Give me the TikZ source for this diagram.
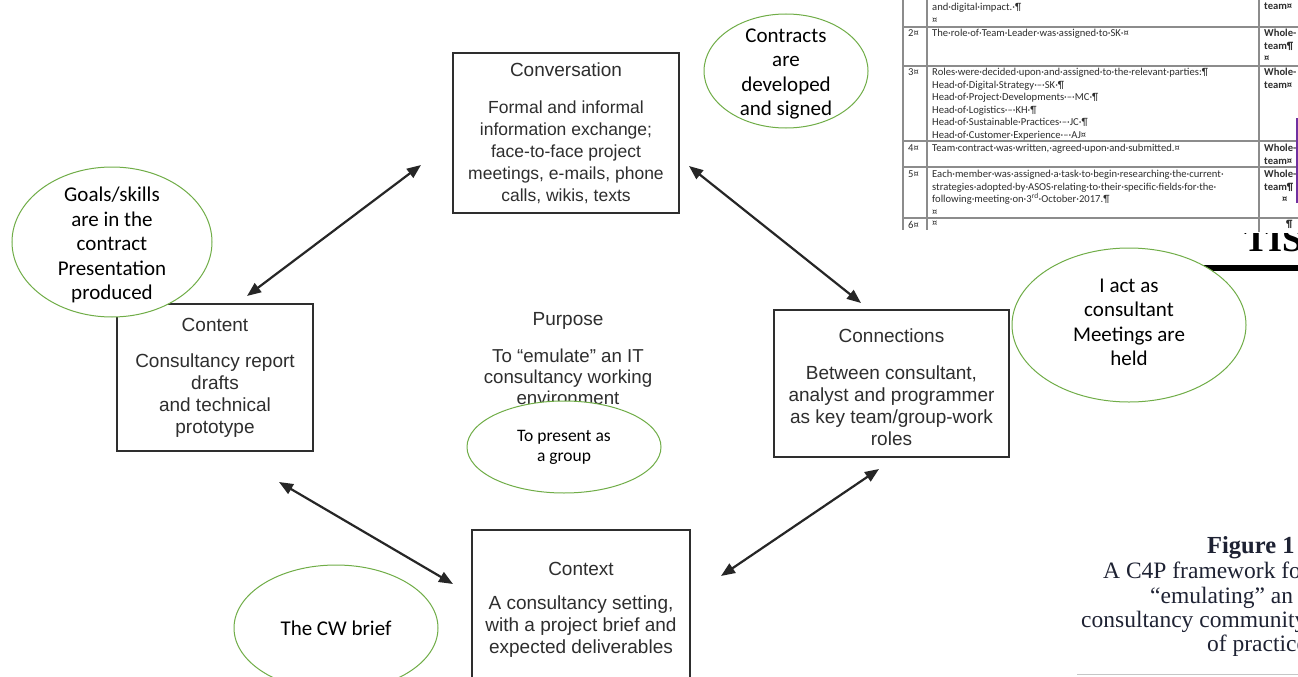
\documentclass[tikz,border=0pt]{standalone}
\usepackage{fontspec}
\setmainfont{Liberation Sans}
\newfontfamily\calibri{Carlito}
\newfontfamily\bookserif{Liberation Serif}
\usetikzlibrary{arrows.meta,shapes.geometric}
\definecolor{leafgreen}{HTML}{70AD47}
\definecolor{inkgray}{HTML}{2E2E2E}
\definecolor{rulegray}{HTML}{8C8C8C}
\definecolor{markpurple}{HTML}{7030A0}
\definecolor{capink}{HTML}{1E2233}

\begin{document}
\begin{tikzpicture}[
  x=1pt, y=-1pt,
  box/.style={draw=inkgray, line width=1.4pt, align=center, inner sep=0pt, text=inkgray,
    font=\fontsize{19}{22}\selectfont},
  note/.style={ellipse, draw=leafgreen, line width=1pt, fill=white, inner sep=0pt},
  notetext/.style={align=center, inner sep=0pt, font=\calibri\fontsize{21}{24.5}\selectfont},
  arr/.style={{Triangle[length=14pt,width=11pt]}-{Triangle[length=14pt,width=11pt]}, line width=2.2pt, black!85},
  cell/.style={anchor=north west, align=left, inner sep=0pt, text=inkgray, font=\calibri\fontsize{10.6}{12.6}\selectfont},
  boldcell/.style={cell, font=\calibri\bfseries\fontsize{10.6}{12.6}\selectfont},
  captext/.style={anchor=base west, inner sep=0pt, text=capink, font=\bookserif\fontsize{23.5}{25}\selectfont}
]
\clip (0,0) rectangle (1298,677);
\fill[white] (0,0) rectangle (1298,677);

% the four C boxes
\node[box, minimum width=226, minimum height=160, font=\fontsize{17.5}{22}\selectfont] (conv) at (566,133)
  {{\fontsize{19}{22}\selectfont Conversation}\\[15pt]Formal and informal\\information exchange;\\face-to-face project\\meetings, e-mails, phone\\calls, wikis, texts};
\node[box, minimum width=196, minimum height=147] (cont) at (215,377.5)
  {Content\\[14pt]Consultancy report\\drafts\\and technical\\prototype};
\node[box, minimum width=235, minimum height=147] (conn) at (891.5,383.5)
  {\rule{0pt}{20.5pt}Connections\\[15pt]Between consultant,\\analyst and programmer\\as key team/group-work\\roles};
\node[box, minimum width=218, minimum height=154] (ctx) at (581,607)
  {\rule{0pt}{19pt}Context\\[12pt]A consultancy setting,\\with a project brief and\\expected deliverables};

% purpose in the middle
\node[align=center, inner sep=0pt, text=inkgray, font=\fontsize{18.7}{21}\selectfont] (purp) at (568,358.5)
  {{\fontsize{19}{21}\selectfont Purpose}\\[16pt]To “emulate” an IT\\consultancy working\\environment};

% arrows
\coordinate (convL) at (421,165);
\coordinate (contT) at (247,296);
\coordinate (convR) at (689,166);
\coordinate (connT) at (861,303);
\coordinate (contB) at (279,482);
\coordinate (ctxL) at (453,584);
\coordinate (connB) at (879,469);
\coordinate (ctxR) at (721,576);
\draw[arr] (convL) -- (contT);
\draw[arr] (convR) -- (connT);
\draw[arr] (contB) -- (ctxL);
\draw[arr] (connB) -- (ctxR);

% table fragment, top right
\node[font=\bookserif\bfseries\fontsize{36}{36}\selectfont, anchor=base west, inner sep=0pt] (tis) at (1244,251) {TIS};
\fill[white] (895,0) rectangle (1298,233);
\draw[rulegray, line width=1.2pt] (903,0) -- (903,230) (927,0) -- (927,230) (1259,0) -- (1259,232);
\foreach \y in {27,66,141,167,218}
  \draw[rulegray, line width=1.8pt] (903,\y) -- (1298,\y);
\foreach \n/\y in {2/29,3/68,4/144,5/170,6/221}
  \node[cell] (n\n) at (908,\y) {\n¤};
\node[cell] (t1) at (932,3) {and·digital·impact.·¶\\¤};
\node[cell] (t2) at (932,29) {The·role·of·Team·Leader·was·assigned·to·SK·¤};
\node[cell] (t3) at (932,68) {Roles·were·decided·upon·and·assigned·to·the·relevant·parties:¶\\
  Head·of·Digital·Strategy·–·SK·¶\\Head·of·Project·Developments·–·MC·¶\\Head·of·Logistics·–·KH·¶\\
  Head·of·Sustainable·Practices·–·JC·¶\\Head·of·Customer·Experience·–·AJ¤};
\node[cell] (t4) at (932,144) {Team·contract·was·written,·agreed·upon·and·submitted.¤};
\node[cell] (t5) at (932,170) {Each·member·was·assigned·a·task·to·begin·researching·the·current·\\
  strategies·adopted·by·ASOS·relating·to·their·specific·fields·for·the·\\
  following·meeting·on·3\textsuperscript{rd}·October·2017.¶\\¤};
\node[cell] (t6) at (932,221) {¤};
\node[boldcell] (w1) at (1264,3) {team¤};
\node[boldcell] (w2) at (1264,29) {Whole-\\team¶\\¤};
\node[boldcell] (w3) at (1264,68) {Whole-\\team¤};
\node[boldcell] (w4) at (1264,144) {Whole-\\team¤};
\node[boldcell] (w5) at (1264,170) {Whole-\\team¶\\\hspace*{18pt}¤};
\node[boldcell] (w6) at (1286,220) {¶};
\draw[markpurple, line width=1.5pt] (1297,118) -- (1297,203);
\draw[line width=6pt] (1180,268) -- (1298,268);

% caption fragment, bottom right
\node[captext, font=\bookserif\bfseries\fontsize{24.5}{26}\selectfont] (fig) at (1207,553) {Figure 1};
\node[captext] (cap1) at (1103,578) {A C4P framework for};
\node[captext] (cap2) at (1150,603) {“emulating” an IT};
\node[captext] (cap3) at (1081,627) {consultancy community};
\node[captext] (cap4) at (1207,651) {of practice};
\draw[gray!45, line width=1pt] (1077,674) -- (1298,674);

% green notes
\node[note, minimum width=164, minimum height=114] (contracts) at (786,71) {};
\node[notetext, yshift=-3pt] (contracts-t) at (contracts) {Contracts\\are\\developed\\and signed};
\node[note, minimum width=200, minimum height=150] (goals) at (112,242) {};
\node[notetext, yshift=-3pt] (goals-t) at (goals) {Goals/skills\\are in the\\contract\\Presentation\\produced};
\node[note, minimum width=234, minimum height=154] (consult) at (1129,325) {};
\node[notetext, yshift=2.5pt] (consult-t) at (consult) {I act as\\consultant\\Meetings are\\held};
\node[note, minimum width=204, minimum height=126] (brief) at (336,628) {};
\node[notetext] (brief-t) at (brief) {The CW brief};
\node[note, minimum width=194, minimum height=92] (present) at (564,447) {};
\node[notetext, font=\calibri\fontsize{17.5}{20}\selectfont] (present-t) at (present) {To present as\\a group};
\end{tikzpicture}
\end{document}
